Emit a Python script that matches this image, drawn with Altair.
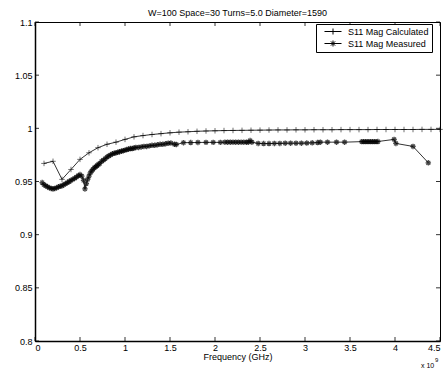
import altair as alt
import pandas as pd

TITLE = "W=100 Space=30 Turns=5.0 Diameter=1590"
SERIES = ["S11 Mag Calculated", "S11 Mag Measured"]

calc_freq = [0.1, 0.2, 0.3, 0.4, 0.5, 0.6, 0.7, 0.8, 0.9, 1.0,
             1.1, 1.2, 1.3, 1.4, 1.5, 1.6, 1.7, 1.8, 1.9, 2.0,
             2.1, 2.2, 2.3, 2.4, 2.5, 2.6, 2.7, 2.8, 2.9, 3.0,
             3.1, 3.2, 3.3, 3.4, 3.5, 3.6, 3.7, 3.8, 3.9, 4.0,
             4.1, 4.2, 4.3, 4.4, 4.5]
calc_mag = [0.967, 0.969, 0.952, 0.9613, 0.9708, 0.977, 0.9818, 0.985, 0.987, 0.9896,
            0.992, 0.9932, 0.9942, 0.995, 0.9958, 0.9964, 0.9968, 0.9972, 0.9975, 0.9977,
            0.9979, 0.998, 0.9981, 0.9982, 0.9983, 0.9984, 0.9985, 0.9985, 0.9986, 0.9986,
            0.9987, 0.9987, 0.9987, 0.9988, 0.9988, 0.9988, 0.9988, 0.9989, 0.9989, 0.9989,
            0.9989, 0.9989, 0.999, 0.999, 0.999]

meas_freq = [0.08, 0.10, 0.12, 0.14, 0.16, 0.18, 0.20, 0.22, 0.24, 0.26,
             0.28, 0.30, 0.32, 0.34, 0.36, 0.38, 0.40, 0.42, 0.44, 0.46,
             0.48, 0.50, 0.52, 0.54, 0.555, 0.57, 0.585, 0.60, 0.615, 0.63,
             0.645, 0.66, 0.675, 0.69, 0.705, 0.72, 0.74, 0.76, 0.78, 0.80,
             0.82, 0.84, 0.86, 0.88, 0.90, 0.92, 0.94, 0.96, 0.98, 1.00,
             1.02, 1.04, 1.06, 1.08, 1.10, 1.12, 1.15, 1.18, 1.21, 1.24,
             1.27, 1.30, 1.33, 1.36, 1.39, 1.42, 1.45, 1.48, 1.51, 1.55,
             1.57, 1.65, 1.73, 1.81, 1.90, 1.98, 2.06, 2.11, 2.14, 2.17,
             2.20, 2.23, 2.26, 2.29, 2.32, 2.35, 2.37, 2.39, 2.41, 2.48,
             2.54, 2.60, 2.66, 2.72, 2.78, 2.84, 2.90, 2.96, 3.02, 3.08,
             3.14, 3.17, 3.25, 3.35, 3.44, 3.63, 3.65, 3.67, 3.69, 3.71,
             3.73, 3.75, 3.77, 3.79, 3.81, 3.99, 4.01, 4.20, 4.37]
meas_mag = [0.949, 0.947, 0.946, 0.945, 0.944, 0.9435, 0.943, 0.9435, 0.944, 0.945,
            0.9455, 0.946, 0.947, 0.948, 0.949, 0.950, 0.951, 0.952, 0.953, 0.954,
            0.9555, 0.9565, 0.955, 0.951, 0.943, 0.948, 0.952, 0.955, 0.958, 0.960,
            0.9615, 0.963, 0.964, 0.965, 0.966, 0.967, 0.969, 0.970, 0.9715, 0.973,
            0.974, 0.975, 0.976, 0.9765, 0.977, 0.9775, 0.978, 0.9785, 0.979, 0.9795,
            0.980, 0.9805, 0.981, 0.981, 0.9815, 0.982, 0.982, 0.9825, 0.983, 0.983,
            0.9835, 0.984, 0.984, 0.9845, 0.985, 0.985, 0.9855, 0.986, 0.9862, 0.985,
            0.9848, 0.9865, 0.9866, 0.9867, 0.9868, 0.9868, 0.9868, 0.987, 0.987, 0.987,
            0.987, 0.987, 0.987, 0.987, 0.987, 0.987, 0.987, 0.9885, 0.987, 0.9858,
            0.9857, 0.9857, 0.9858, 0.9858, 0.986, 0.986, 0.986, 0.986, 0.9862, 0.9864,
            0.9866, 0.987, 0.987, 0.987, 0.987, 0.9875, 0.9875, 0.9875, 0.9875, 0.9875,
            0.9875, 0.9875, 0.9875, 0.9875, 0.9876, 0.9896, 0.9858, 0.983, 0.9676]

x_ticks = [0, 0.5, 1, 1.5, 2, 2.5, 3, 3.5, 4, 4.5]
y_ticks = [0.8, 0.85, 0.9, 0.95, 1.0, 1.05, 1.1]

W, H = 405, 319
FONT = "Liberation Sans"

df = pd.concat([
    pd.DataFrame({"freq": calc_freq, "mag": calc_mag, "series": SERIES[0]}),
    pd.DataFrame({"freq": meas_freq, "mag": meas_mag, "series": SERIES[1]}),
])
xt = pd.DataFrame({"t": x_ticks})
yt = pd.DataFrame({"t": y_ticks})

xscale = alt.Scale(domain=[0, 4.5], nice=False, zero=False)
yscale = alt.Scale(domain=[0.8, 1.1], nice=False, zero=False)
xaxis = alt.Axis(values=x_ticks, format="~g", ticks=False, tickSize=0, grid=False,
                 labelPadding=2, titlePadding=0, domainWidth=1.5, domainColor="black")
yaxis = alt.Axis(values=y_ticks, format="~g", ticks=False, tickSize=0, grid=False,
                 labelPadding=3, domainWidth=1.5, domainColor="black")
XT = "Frequency (GHz)"


def X(f):
    return alt.X(f, type="quantitative", scale=xscale, axis=xaxis, title=XT)


def Y(f):
    return alt.Y(f, type="quantitative", scale=yscale, axis=yaxis, title=None)


PLUS = "M-1,0H1M0,-1V1"
STAR = "M-1,0H1M0,-1V1M-0.7,-0.7L0.7,0.7M-0.7,0.7L0.7,-0.7"
LEG_PLUS = "M0.33,0H6M3.17,-1V1"
LEG_STAR = "M0.33,0H6M3.17,-1V1M2.47,-0.7L3.87,0.7M2.47,0.7L3.87,-0.7"

base = alt.Chart(df)
lines = base.mark_line(color="black", strokeWidth=0.8).encode(
    x=X("freq"), y=Y("mag"), detail="series:N")
pc = base.transform_filter(alt.datum.series == SERIES[0]).mark_point(
    shape=PLUS, size=30, color="black", filled=False, strokeWidth=0.8).encode(
    x=X("freq"), y=Y("mag"))
pm = base.transform_filter(alt.datum.series == SERIES[1]).mark_point(
    shape=STAR, size=30, color="black", filled=False, strokeWidth=1.3).encode(
    x=X("freq"), y=Y("mag"))
leg = base.mark_point(opacity=0, size=36, filled=False, color="black").encode(
    x=X("freq"), y=Y("mag"),
    shape=alt.Shape("series:N", scale=alt.Scale(domain=SERIES, range=[LEG_PLUS, LEG_STAR]),
                    legend=alt.Legend(title=None, orient="none", legendX=281, legendY=2,
                                      strokeColor="black", fillColor="white", padding=3,
                                      labelFont=FONT, labelFontSize=9, labelColor="black",
                                      labelOffset=20, symbolOpacity=1,
                                      symbolStrokeColor="black", symbolFillColor="transparent",
                                      symbolStrokeWidth=1, symbolSize=36, rowPadding=1,
                                      labelExpr="datum.label + '   '")))

tb = alt.Chart(xt).mark_rule(color="black", strokeWidth=0.8).encode(
    x=X("t"), y=alt.value(H), y2=alt.value(H - 4))
tt = alt.Chart(xt).mark_rule(color="black", strokeWidth=0.8).encode(
    x=X("t"), y=alt.value(0), y2=alt.value(4))
tl = alt.Chart(yt).mark_rule(color="black", strokeWidth=0.8).encode(
    y=Y("t"), x=alt.value(0), x2=alt.value(4))
tr = alt.Chart(yt).mark_rule(color="black", strokeWidth=0.8).encode(
    y=Y("t"), x=alt.value(W - 4), x2=alt.value(W))

one = pd.DataFrame({"a": [0]})
exp1 = alt.Chart(one).mark_text(text="x 10", font=FONT, fontSize=7, align="left",
                                baseline="alphabetic", color="black").encode(
    x=alt.value(386), y=alt.value(346))
exp2 = alt.Chart(one).mark_text(text="9", font=FONT, fontSize=6, align="left",
                                baseline="alphabetic", color="black").encode(
    x=alt.value(400), y=alt.value(340))

chart = alt.layer(lines, pc, pm, leg, tb, tt, tl, tr, exp1, exp2).properties(
    width=W, height=H,
    title=alt.TitleParams(TITLE, font=FONT, fontSize=9, fontWeight="normal",
                          anchor="middle", offset=0, color="black"),
    autosize=alt.AutoSizeParams(type="none"),
    padding={"left": 35, "top": 22, "right": 5, "bottom": 28},
    background="white",
).configure_view(stroke="black", strokeWidth=1).configure_axis(
    labelFont=FONT, labelFontSize=9, labelColor="black",
    titleFont=FONT, titleFontSize=9, titleFontWeight="normal", titleColor="black",
    labelOverlap=False,
)

chart.save("out.html", embed_options={"renderer": "svg", "actions": False})
